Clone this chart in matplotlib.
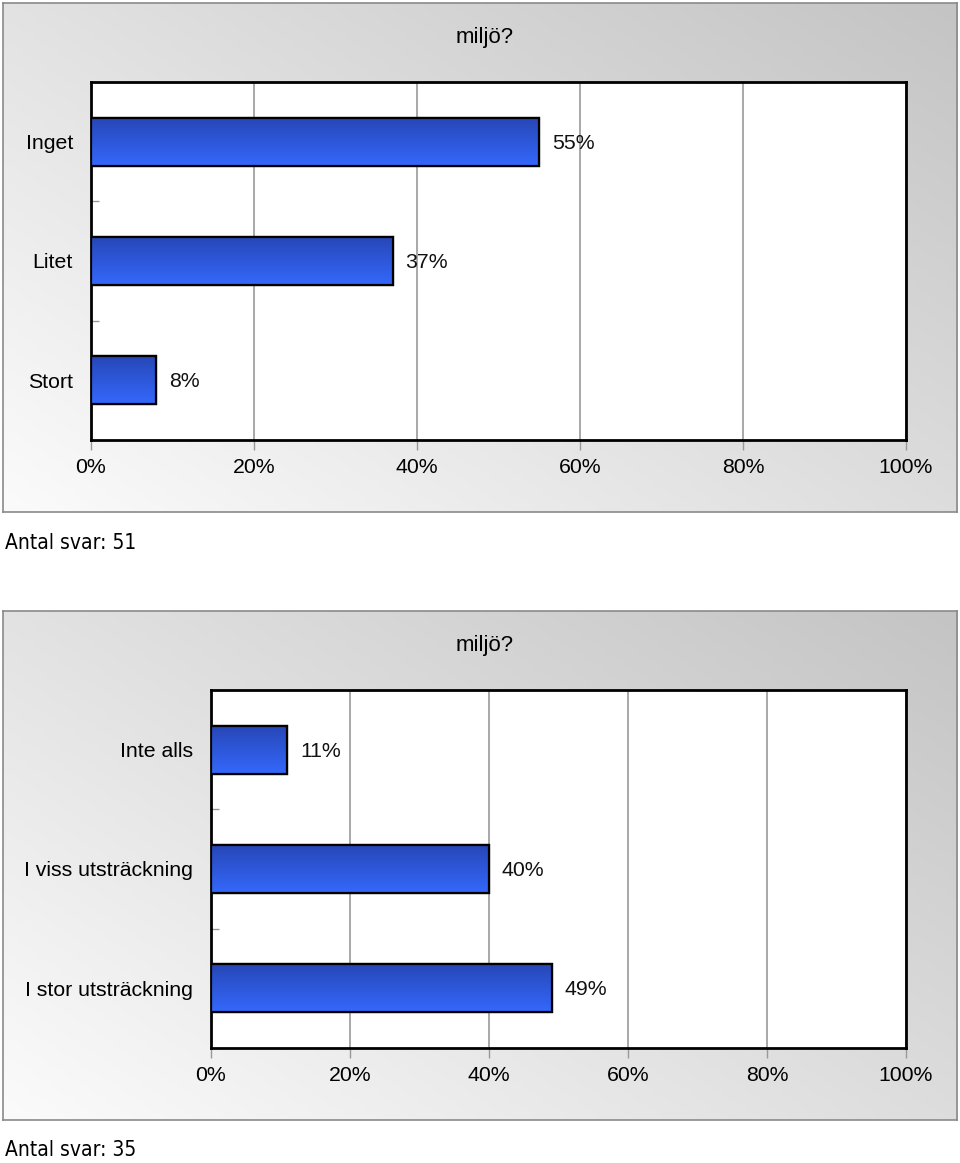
import numpy as np
import matplotlib
matplotlib.use("Agg")
from matplotlib import pyplot as plt
from matplotlib.colors import LinearSegmentedColormap

plt.rcParams['font.family'] = ['Liberation Sans', 'DejaVu Sans']

# data
title = 'miljö?'
cats1 = ['Inget', 'Litet', 'Stort']
vals1 = [55, 37, 8]
n1 = 51
cats2 = ['Inte alls', 'I viss utsträckning', 'I stor utsträckning']
vals2 = [11, 40, 49]
n2 = 35
xticks = [0, 20, 40, 60, 80, 100]

W, H = 960, 1163
FS = 15.3
fig = plt.figure(figsize=(W / 100, H / 100), dpi=100)
fig.patch.set_facecolor('white')

bar_cmap = LinearSegmentedColormap.from_list('bar', ['#2747b8', '#3468fb'])
bg_cmap = LinearSegmentedColormap.from_list('bg', ['#fbfbfb', '#c4c4c4'])


def px_rect(x0, y0, x1, y1):
    return [x0 / W, 1 - y1 / H, (x1 - x0) / W, (y1 - y0) / H]


def panel(box, axbox, cats, vals, n, title_y, note_y):
    # gradient frame
    bg = fig.add_axes(px_rect(*box))
    gx, gy = np.meshgrid(np.linspace(0, 1, 200), np.linspace(0, 1, 200))
    bg.imshow(0.55 * gx + 0.45 * gy, cmap=bg_cmap, aspect='auto', origin='lower',
              extent=(0, 1, 0, 1), vmin=0, vmax=1)
    bg.set_xticks([])
    bg.set_yticks([])
    for s in bg.spines.values():
        s.set_color('#8a8a8a')
        s.set_linewidth(1.2)

    ax = fig.add_axes(px_rect(*axbox))
    ax.set_facecolor('white')
    ypos = np.arange(len(cats))
    bars = ax.barh(ypos, vals, height=0.4, color='#2f5be0', edgecolor='black',
                   linewidth=1.6, zorder=3)
    grad = np.linspace(0, 1, 100).reshape(-1, 1)
    for b in bars:
        x0, y0 = b.get_x(), b.get_y()
        w, h = b.get_width(), b.get_height()
        im = ax.imshow(grad, cmap=bar_cmap, aspect='auto', origin='upper',
                       extent=(x0, x0 + w, y0 + h, y0), zorder=3.5)
        im.set_clip_path(b)
        ax.add_patch(plt.Rectangle((x0, y0), w, h, fill=False, edgecolor='black',
                                   linewidth=1.6, zorder=4))
    for y, v in zip(ypos, vals):
        ax.annotate(f'{v}%', (v, y), xytext=(9, -1), textcoords='offset points',
                    va='center', ha='left', fontsize=FS, color='#111111')
    ax.set_xlim(0, 100)
    ax.set_ylim(len(cats) - 0.5, -0.5)
    ax.set_xticks(xticks)
    ax.set_xticklabels([f'{t}%' for t in xticks], fontsize=FS)
    ax.set_yticks(ypos)
    ax.set_yticklabels(cats, fontsize=FS)
    ax.set_yticks(ypos[:-1] + 0.5, minor=True)
    ax.tick_params(axis='y', which='major', length=0, pad=13)
    ax.tick_params(axis='y', which='minor', length=6, direction='in', color='#999999', width=1)
    ax.tick_params(axis='x', length=7, color='#999999', width=1, pad=6)
    ax.grid(axis='x', color='#999999', linewidth=1.2, zorder=1)
    for s in ax.spines.values():
        s.set_linewidth(2)
        s.set_color('black')
    fig.text(485 / W, 1 - title_y / H, title, ha='center', va='center', fontsize=16)
    fig.text(5 / W, 1 - note_y / H, f'Antal svar: {n}', ha='left', va='center',
             fontsize=15, family=['DejaVu Sans'], fontstretch='condensed')


panel((3, 3, 957, 512), (91, 82, 906, 440), cats1, vals1, n1, 38, 543)
panel((3, 611, 957, 1120), (211, 690, 906, 1048), cats2, vals2, n2, 646, 1150)

fig.savefig('out.png', dpi=100)
